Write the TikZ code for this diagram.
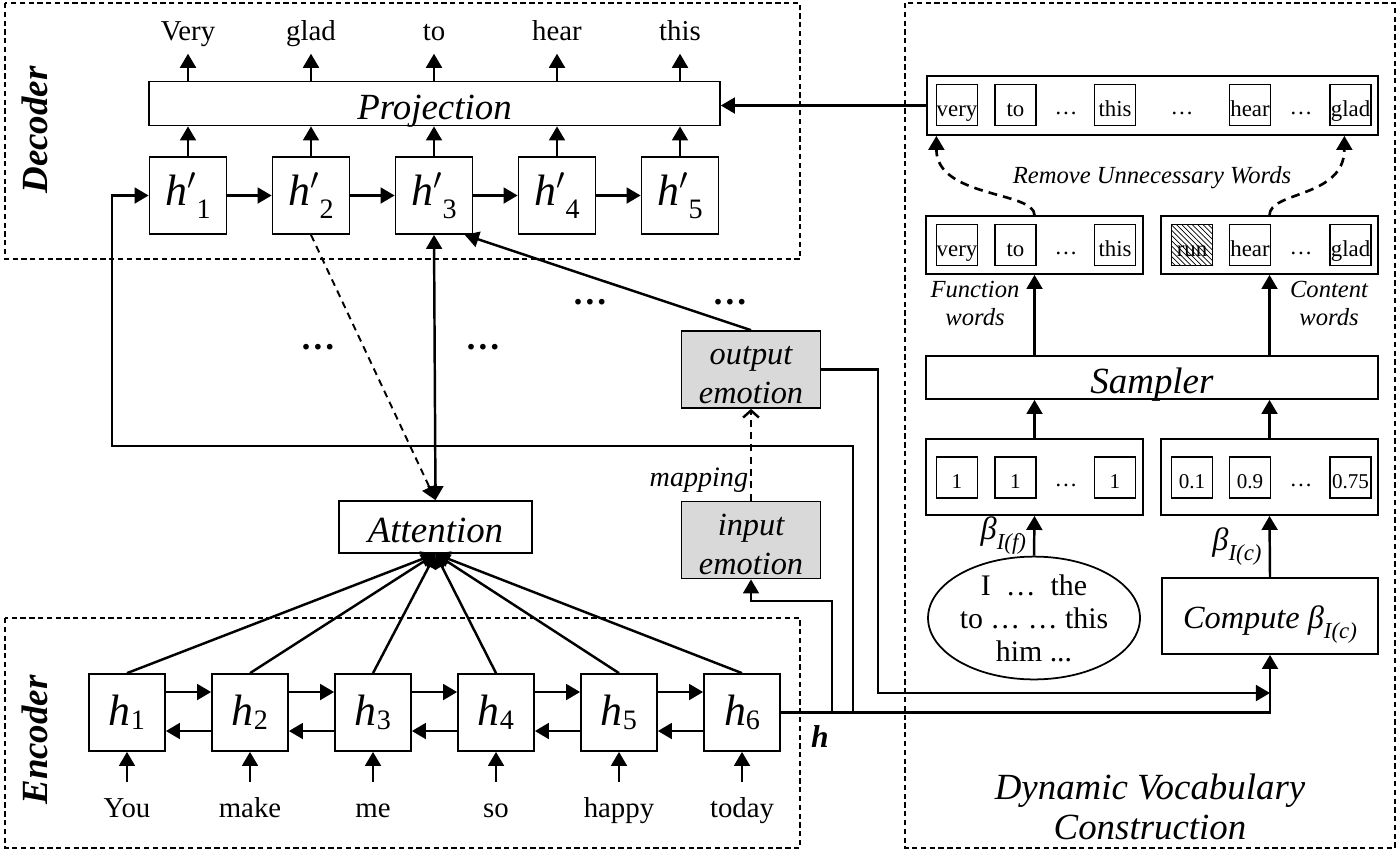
\documentclass[tikz,border=0pt]{standalone}
\usepackage{fontspec}
\setmainfont{Liberation Serif}
\usepackage{tikz}
\usetikzlibrary{arrows.meta, shapes.geometric, patterns}

\newcommand{\fbig}{\fontsize{21}{25}\selectfont}
\newcommand{\fmid}{\fontsize{18.4}{22}\selectfont}
\newcommand{\fword}{\fontsize{16.4}{19}\selectfont}
\newcommand{\fsmall}{\fontsize{14}{16.4}\selectfont}
\newcommand{\fcell}{\fontsize{13}{15}\selectfont}
\newcommand{\fnum}{\fontsize{12}{13}\selectfont}
\newcommand{\fh}{\fontsize{25}{28}\selectfont}
\newcommand{\fdvc}{\fontsize{21}{23.2}\selectfont}
\newcommand{\enc}[1]{\textit{h}\raisebox{-0.1em}{\fontsize{16}{16}\selectfont #1}}
\newcommand{\dec}[1]{\textit{h}$'$\raisebox{-0.3em}{\fontsize{16}{16}\selectfont #1}}

\tikzset{
    frame/.style={draw, line width=0.7pt, dash pattern=on 3pt off 2pt},
    arr/.style={line width=1.4pt, -{Triangle[length=8pt,width=9pt]}},
    arrs/.style={line width=1.4pt, {Triangle[length=8pt,width=9pt]}-{Triangle[length=8pt,width=9pt]}},
    darr/.style={arr, line width=1.1pt, dash pattern=on 4pt off 3pt},
    maparr/.style={line width=1.3pt, dash pattern=on 4pt off 3pt, -{Straight Barb[length=4pt,width=9pt,line width=1.4pt]}},
    rmarr/.style={arr, line width=1.5pt, dash pattern=on 5pt off 3.5pt},
    box/.style={draw, line width=1pt, inner sep=0pt, align=center},
    hcell/.style={box, minimum width=1.54cm, minimum height=1.54cm, font=\fh},
    ecell/.style={box, minimum width=1.52cm, minimum height=1.54cm, font=\fh},
    bar/.style={box, font=\fbig, text height=18.5pt, text depth=0.3pt},
    grp/.style={box, minimum width=4.34cm},
    cell/.style={box, minimum size=0.82cm, font=\fcell, text height=14pt, text depth=0.5pt},
    emo/.style={box, fill=black!15, minimum width=2.78cm, minimum height=1.54cm, font=\fmid\itshape, text height=39pt},
    word/.style={font=\fword, text height=11.8pt, text depth=3.6pt, inner xsep=1pt, inner ysep=4pt},
    lbl/.style={font=\fbig\bfseries\itshape},
    dots/.style={font=\fontsize{20}{20}\selectfont\bfseries, inner sep=0pt},
}

\begin{document}
\begin{tikzpicture}[x=0.02cm, y=-0.02cm]
    \useasboundingbox (0,0) rectangle (1399,856);

    % frames
    \draw[frame] (5,3) rectangle (800,259);
    \draw[frame] (5,618) rectangle (800,848);
    \draw[frame] (905,3) rectangle (1395,848);
    \node[lbl, rotate=90] (declbl) at (35,130) {Decoder};
    \node[lbl, rotate=90] (enclbl) at (35,740) {Encoder};
    \node[font=\fdvc\itshape, align=center] (dvc) at (1150,807) {Dynamic Vocabulary\\Construction};

    % decoder
    \node[bar, minimum width=11.42cm, minimum height=0.88cm] (proj) at (434.5,103.5) {\textit{Projection}};
    \foreach \x/\w [count=\i] in {188/Very,311/glad,434/to,557/hear,680/this} {
        \node[hcell] (d\i) at (\x,195.5) {\dec{\i}};
        \node[word, anchor=base] (o\i) at (\x,40) {\w};
        \draw[arr] (d\i.north) -- (proj.south -| d\i);
        \draw[arr] (proj.north -| o\i) -- (o\i.south);
    }
    \foreach \i [count=\j from 2] in {1,...,4}
        \draw[arr] (d\i) -- (d\j);

    % encoder
    \foreach \x/\w [count=\i] in {127/You,250/make,373/me,496/so,619/happy,742/today} {
        \node[ecell] (e\i) at (\x,712.5) {\enc{\i}};
        \node[word, inner ysep=8pt, anchor=base] (w\i) at (\x,817) {\w};
        \draw[arr] (w\i.north) -- (e\i.south);
    }
    \foreach \i [count=\j from 2] in {1,...,5} {
        \draw[arr] ([yshift=0.41cm]e\i.east) -- ([yshift=0.41cm]e\j.west);
        \draw[arr] ([yshift=-0.37cm]e\j.west) -- ([yshift=-0.37cm]e\i.east);
    }
    \node[bar, minimum width=3.86cm, minimum height=1.04cm] (att) at (435.5,527) {\textit{Attention}};
    \foreach \i in {1,...,6}
        \draw[arr] (e\i.north) -- (att.south);
    \draw[darr] (d2.south) -- (att.north);
    \draw[arrs] (d3.south) -- (att.north);

    % emotion
    \node[emo] (oe) at (751,369.5) {output\\emotion};
    \node[emo] (ie) at (751,540) {input\\emotion};
    \draw[arr] (oe.north) -- (d3.-52);
    \draw[maparr] (ie.north) -- (oe.south) node[pos=0.22, left, font=\fontsize{16}{16}\selectfont\itshape, inner sep=1pt] (map) {mapping};
    \node[dots] (dt1) at (318,347) {…};
    \node[dots] (dt2) at (483,347) {…};
    \node[dots] (dt3) at (590,302) {…};
    \node[dots] (dt4) at (730,302) {…};

    % h to the other parts
    \node[font=\fontsize{18}{18}\selectfont\bfseries\itshape] (hlbl) at (820,737) {h};
    \coordinate (hA) at (832,712.5);
    \coordinate (hB) at (853,712.5);
    \coordinate (lp) at (112,446);
    \coordinate (tc) at (1270,693);
    \draw[arr] (hA) -- ++(0,-111.5) -| (ie.south);
    \draw[arr] (hB) |- (lp) |- (d1.west);
    \draw[arr] (oe.east) -- ++(56.5,0) |- (tc);

    % dynamic vocabulary
    \node[box, minimum width=9.02cm, minimum height=1.18cm] (voc) at (1152.5,105.5) {};
    \foreach \x/\w [count=\i] in {957/very,1015.5/to,1115/this,1250/hear,1350.5/glad}
        \node[cell] (v\i) at (\x,105) {\w};
    \foreach \x [count=\i] in {1066,1182,1301}
        \node[font=\fcell] (vd\i) at (\x,113) {…};
    \draw[arr] (voc.west) -- (voc.west -| proj.east);

    \node[grp, minimum height=1.16cm] (fw) at (1034.5,245) {};
    \node[grp, minimum height=1.16cm] (cw) at (1269.5,245) {};
    \foreach \x/\w [count=\i] in {957/very,1015.5/to,1115/this}
        \node[cell] (f\i) at (\x,245) {\w};
    \node[font=\fcell] (fd) at (1066,253) {…};
    \node[cell, pattern=north west lines] (c1) at (1192,245) {run};
    \node[cell] (c2) at (1250,245) {hear};
    \node[cell] (c3) at (1350.5,245) {glad};
    \node[font=\fcell] (cd) at (1301,253) {…};

    \node[font=\fsmall\itshape] (rm) at (1152,178) {Remove Unnecessary Words};
    \draw[rmarr] (fw.north) .. controls +(0,-24) and +(0,62) .. (voc.188.85);
    \draw[rmarr] (cw.north) .. controls +(0,-24) and +(0,62) .. (voc.351.46);
    \node[font=\fsmall\itshape, align=center] (fl) at (975,303.5) {Function\\words};
    \node[font=\fsmall\itshape, align=center] (cl) at (1329,303.5) {Content\\words};

    \node[bar, minimum width=9.04cm, minimum height=0.86cm] (samp) at (1152,377.5) {\textit{Sampler}};
    \draw[arr] (samp.north -| fw) -- (fw.south);
    \draw[arr] (samp.north -| cw) -- (cw.south);

    \node[grp, minimum height=1.52cm] (bf) at (1034.5,477) {};
    \node[grp, minimum height=1.52cm] (bc) at (1269.5,477) {};
    \foreach \x/\w [count=\i] in {957/1,1015.5/1,1115/1}
        \node[cell, font=\fnum, text height=12.5pt] (bf\i) at (\x,477.5) {\w};
    \foreach \x/\w [count=\i] in {1192/0.1,1250/0.9,1350.5/0.75}
        \node[cell, font=\fnum, text height=12.5pt] (bc\i) at (\x,477.5) {\w};
    \node[font=\fcell] (bfd) at (1066,485) {…};
    \node[font=\fcell] (bcd) at (1301,485) {…};
    \draw[arr] (bf.north) -- (samp.south -| bf);
    \draw[arr] (bc.north) -- (samp.south -| bc);

    \node[ellipse, draw, line width=1pt, inner sep=0pt, minimum width=4.24cm, minimum height=2.2cm,
        align=center, font=\fontsize{17}{18.7}\selectfont] (ell) at (1034,618) {I ~…~ the\\to … … this\\him ...};
    \node[grp, minimum width=4.32cm, minimum height=1.52cm, font=\fmid, text height=16pt, text depth=2pt] (comp) at (1270,616)
        {\textit{Compute β}\raisebox{-0.3em}{\fontsize{13}{13}\selectfont\textit{I(c)}}};
    \draw[arr] (ell.north) -- (bf.south) node[midway, left, inner sep=4pt, font=\fmid] (lbf)
        {\textit{β}\raisebox{-0.3em}{\fontsize{13}{13}\selectfont\textit{I(f)}}};
    \draw[arr] (comp.north) -- (bc.south) node[midway, left, inner sep=4pt, font=\fmid] (lbc)
        {\textit{β}\raisebox{-0.3em}{\fontsize{13}{13}\selectfont\textit{I(c)}}};
    \draw[arr] (e6.east) -| (comp.south);
\end{tikzpicture}
\end{document}
